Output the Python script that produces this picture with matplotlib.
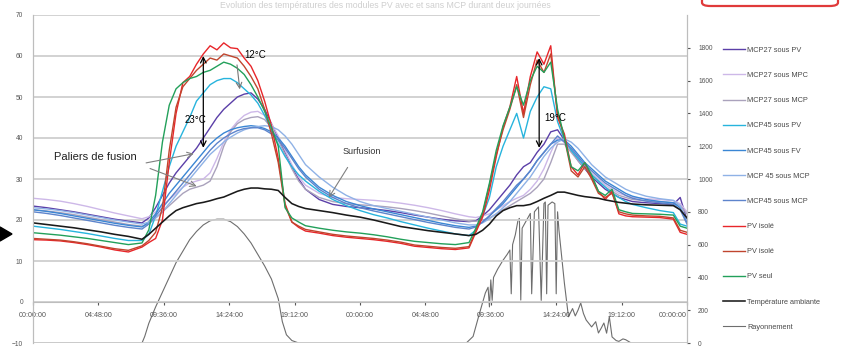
import matplotlib
matplotlib.use("Agg")
import matplotlib.pyplot as plt
from matplotlib.patches import FancyBboxPatch, Polygon

plt.rcParams['font.family'] = ['Liberation Sans', 'DejaVu Sans']

# time axis in hours from 00:00 day 1 (denser sampling during the day)
hours = [0, 1, 2, 3, 4, 5, 6, 7, 8,
         8.5, 9, 9.5, 10, 10.5, 11, 11.5, 12, 12.5, 13, 13.5, 14, 14.5, 15, 15.5, 16, 16.5, 17, 17.5, 18, 18.5, 19, 19.5, 20,
         21, 22, 23, 24, 25, 26, 27, 28, 29, 30, 31, 32,
         32.5, 33, 33.5, 34, 34.5, 35, 35.5, 36, 36.5, 37, 37.5, 38, 38.5, 39, 39.5, 40, 40.5, 41, 41.5, 42, 42.5, 43, 43.5, 44,
         45, 46, 47, 47.5, 48]

mcp27_pv = [23.4, 23.0, 22.5, 22.0, 21.4, 20.8, 20.2, 19.7, 19.3,
            20.5, 23.0, 26.0, 29.0, 31.5, 33.5, 35.5, 37.5, 40.0, 42.5, 45.0, 47.0, 48.5, 50.0, 50.7, 51.0, 49.5, 47.0, 43.5, 40.0, 36.5, 33.0, 30.0, 27.5,
            25.0, 23.8, 23.3, 23.0, 22.7, 22.3, 21.8, 21.2, 20.7, 20.2, 19.8, 19.6,
            19.8, 21.0, 22.5, 24.5, 26.5, 28.5, 31.0, 33.0, 34.0, 36.5, 38.5, 41.5, 42.0, 39.5, 37.0, 34.5, 32.5, 30.5, 29.0, 27.5, 26.5, 25.5, 25.0, 24.5,
            24.2, 24.0, 23.8, 25.5, 20.0]
mcp27_mpc = [25.3, 25.0, 24.6, 24.0, 23.3, 22.5, 21.7, 21.0, 20.3,
             20.8, 22.0, 23.5, 25.0, 26.5, 28.0, 29.0, 29.5, 30.0, 31.5, 35.0, 39.0, 42.0, 44.0, 45.5, 46.3, 46.5, 45.5, 43.5, 40.5, 37.0, 33.5, 30.5, 28.5,
             26.5, 25.5, 25.2, 25.0, 24.8, 24.5, 24.1, 23.6, 23.0, 22.3, 21.5, 20.8,
             20.6, 21.0, 21.5, 22.5, 23.5, 24.5, 25.3, 26.0, 27.5, 29.5, 32.5, 36.5, 40.0, 39.0, 37.0, 35.0, 33.0, 31.5, 30.0, 28.5, 27.5, 26.5, 26.0, 25.5,
             25.2, 25.0, 24.7, 24.0, 22.0]
mcp27_mcp = [22.5, 22.2, 21.8, 21.3, 20.7, 20.1, 19.5, 18.9, 18.5,
             19.0, 20.5, 22.0, 23.5, 25.0, 26.5, 27.5, 28.0, 28.5, 29.5, 33.0, 38.0, 41.5, 43.5, 44.5, 45.0, 45.2, 44.5, 42.5, 39.5, 36.0, 32.5, 29.5, 27.5,
             25.5, 24.5, 24.0, 23.7, 23.5, 23.2, 22.8, 22.3, 21.7, 21.0, 20.3, 19.7,
             19.7, 20.0, 20.5, 21.5, 22.5, 23.5, 24.5, 25.5, 26.5, 28.0, 30.0, 34.0, 38.5, 38.5, 36.5, 34.5, 32.5, 31.0, 29.5, 28.0, 27.0, 26.0, 25.5, 25.0,
             24.7, 24.5, 24.2, 23.5, 21.5]
mcp45_pv = [18.5, 18.1, 17.7, 17.2, 16.7, 16.1, 15.5, 15.0, 15.0,
            16.5, 21.0, 27.0, 33.0, 38.0, 41.5, 45.0, 49.0, 51.0, 53.0, 54.0, 54.5, 54.5, 53.5, 52.0, 50.5, 48.5, 45.5, 42.0, 38.5, 35.5, 33.0, 31.0, 29.5,
            27.0, 25.0, 23.5, 22.3, 21.3, 20.5, 19.6, 18.8, 18.0, 17.3, 16.6, 16.2,
            17.5, 21.0, 25.5, 33.0, 38.0, 42.0, 46.0, 40.0, 46.5, 50.0, 52.5, 52.0, 44.0, 39.5, 37.0, 35.0, 33.0, 31.0, 29.5, 28.0, 26.5, 25.5, 24.5, 23.8,
            23.0, 22.3, 21.8, 19.0, 18.5]
mcp45_fv = [22.5, 22.1, 21.6, 21.0, 20.4, 19.8, 19.2, 18.7, 18.3,
            19.5, 21.5, 24.0, 26.5, 28.5, 30.5, 32.5, 34.5, 36.5, 38.5, 40.0, 41.2, 42.0, 42.5, 42.8, 43.0, 42.8, 42.3, 41.5, 40.0, 38.0, 35.5, 33.0, 31.0,
            28.0, 26.0, 24.5, 23.5, 22.7, 22.0, 21.3, 20.6, 19.9, 19.2, 18.6, 18.2,
            18.5, 19.5, 21.0, 22.5, 24.0, 26.0, 28.0, 30.0, 32.0, 34.5, 36.5, 38.5, 39.5, 39.5, 38.0, 36.0, 34.0, 32.5, 31.0, 29.5, 28.5, 27.5, 26.5, 25.8,
            25.0, 24.5, 24.2, 23.0, 19.5]
mcp45_mcp_a = [23.0, 22.7, 22.3, 21.8, 21.2, 20.6, 20.0, 19.5, 19.0,
               19.5, 20.5, 22.0, 24.0, 26.0, 28.0, 30.0, 32.0, 34.0, 36.0, 37.5, 39.0, 40.2, 41.2, 42.0, 42.5, 42.8, 43.0, 42.8, 42.0, 40.5, 38.5, 36.0, 33.5,
               30.5, 28.0, 26.0, 24.5, 23.5, 22.8, 22.1, 21.4, 20.7, 20.0, 19.3, 18.8,
               18.8, 19.3, 20.3, 21.5, 23.0, 24.5, 26.5, 28.5, 30.5, 33.0, 35.5, 37.5, 39.0, 39.8, 39.0, 37.5, 35.5, 33.5, 32.0, 30.5, 29.5, 28.5, 27.5, 26.8,
               25.8, 25.2, 24.8, 23.5, 20.0]
mcp45_mcp_b = [22.0, 21.6, 21.1, 20.5, 19.9, 19.3, 18.7, 18.2, 17.8,
               19.0, 21.0, 23.0, 25.0, 27.0, 29.0, 31.0, 33.0, 35.0, 37.0, 38.7, 40.0, 41.0, 41.8, 42.3, 42.5, 42.5, 42.0, 41.0, 39.5, 37.5, 35.0, 32.5, 30.5,
               27.5, 25.5, 24.0, 23.0, 22.2, 21.5, 20.8, 20.1, 19.4, 18.8, 18.2, 17.8,
               18.3, 19.5, 21.0, 22.8, 24.5, 26.5, 28.5, 30.0, 32.0, 34.5, 36.5, 38.5, 40.5, 39.0, 37.5, 35.5, 33.5, 32.0, 30.5, 29.0, 28.0, 27.0, 26.0, 25.3,
               24.6, 24.2, 23.8, 22.5, 19.0]
pv_isole_1 = [15.2, 15.1, 14.9, 14.5, 14.0, 13.4, 12.7, 12.2, 13.4,
              14.5, 15.5, 20.0, 34.0, 46.0, 53.5, 55.0, 58.0, 60.5, 62.5, 61.5, 63.2, 62.0, 61.8, 59.5, 57.5, 54.0, 49.0, 43.0, 35.0, 24.0, 19.5, 18.2, 17.3,
              16.8, 16.2, 15.8, 15.5, 15.2, 14.8, 14.3, 13.6, 13.3, 13.0, 12.8, 13.2,
              17.0, 20.7, 27.3, 35.4, 42.7, 47.6, 55.0, 46.0, 55.0, 61.0, 58.0, 62.5, 45.0, 41.0, 33.0, 31.0, 34.0, 30.5, 27.0, 25.0, 27.0, 21.5, 21.0, 20.8,
              20.7, 20.6, 20.2, 17.0, 16.5]
pv_isole_2 = [15.5, 15.3, 15.1, 14.7, 14.2, 13.6, 13.0, 12.6, 13.7,
              15.0, 17.0, 23.0, 37.0, 47.5, 52.5, 54.5, 56.5, 58.0, 59.5, 59.0, 60.5, 60.0, 59.5, 57.5, 55.0, 52.0, 47.0, 41.0, 34.0, 23.5, 19.5, 18.5, 17.7,
              17.1, 16.5, 16.1, 15.8, 15.5, 15.1, 14.6, 13.9, 13.6, 13.3, 13.1, 13.5,
              17.5, 21.5, 28.5, 36.0, 42.0, 47.0, 53.0, 45.0, 53.0, 59.0, 56.0, 60.5, 46.0, 40.0, 32.0, 30.5, 33.0, 30.0, 26.5, 25.5, 26.5, 22.0, 21.5, 21.2,
              21.0, 20.9, 20.5, 17.5, 17.0]
pv_seul = [16.9, 16.6, 16.3, 15.9, 15.5, 15.0, 14.5, 14.0, 14.4,
           17.6, 26.0, 39.0, 48.0, 52.0, 53.5, 54.5, 55.0, 56.0, 56.5, 57.5, 58.5, 58.0, 57.0, 55.5, 53.0, 50.0, 46.5, 42.5, 38.0, 23.0, 20.5, 19.5, 18.6,
           18.0, 17.5, 17.1, 16.8, 16.4, 15.9, 15.3, 14.8, 14.5, 14.2, 14.0, 14.5,
           18.0, 22.0, 29.0, 37.0, 43.0, 47.5, 52.5, 48.0, 54.0, 57.5, 56.0, 58.5, 47.0, 40.0, 33.0, 32.0, 34.0, 31.0, 27.0, 26.0, 27.5, 22.5, 22.0, 21.6,
           21.5, 21.4, 21.2, 18.5, 18.0]
t_ambiante = [19.3, 18.9, 18.5, 18.1, 17.6, 17.1, 16.5, 16.0, 15.3,
              16.5, 18.0, 19.5, 21.0, 22.3, 23.0, 23.5, 24.0, 24.3, 24.7, 25.2, 25.6, 26.3, 27.0, 27.5, 27.8, 27.8, 27.6, 27.5, 27.2, 25.5, 24.0, 23.3, 22.8,
              22.3, 21.8, 21.2, 20.7, 20.0, 19.2, 18.4, 17.9, 17.4, 17.0, 16.6, 16.2,
              16.5, 17.5, 19.0, 21.0, 22.3, 23.0, 23.5, 23.5, 23.8, 24.5, 25.3, 26.0, 26.8, 26.8, 26.4, 26.0, 25.7, 25.5, 25.3, 24.9, 24.6, 24.3, 24.1, 23.9,
              23.7, 23.6, 23.5, 22.5, 20.5]

# solar radiation (W/m2, right axis)
rad_hours = [0, 8.0, 8.2, 8.5, 9, 9.5, 10, 10.5, 11, 11.5, 12, 12.5, 13, 13.5, 14, 14.5, 15, 15.5, 16, 16.5, 17, 17.5, 18, 18.3, 18.6, 19, 19.5,
             31.8, 32.3, 32.7, 33.2, 33.4, 33.5, 33.6, 33.7, 33.8, 34.1, 34.5, 34.8, 35.0, 35.1, 35.2, 35.4, 35.6, 35.7, 35.8, 35.9,
             36.3, 36.5, 36.6, 36.8, 37.1, 37.3, 37.5, 37.6, 37.7, 37.8, 38.1, 38.3, 38.4, 38.5, 38.6, 39.0, 39.3, 39.6, 39.8, 40.0,
             40.2, 40.4, 40.6, 41.0, 41.3, 41.5, 41.7, 41.9, 42.1, 42.3, 42.5, 42.8, 43.0, 43.3, 43.5, 43.9, 48]
rad_wm2 = [0, 0, 40, 120, 220, 310, 400, 490, 560, 630, 680, 720, 745, 755, 755, 740, 710, 665, 610, 540, 470, 390, 270, 130, 50, 15, 0,
           0, 40, 160, 305, 340, 220, 385, 260, 400, 450, 505, 540, 567, 300, 600, 660, 750, 760, 262, 700,
           760, 790, 300, 800, 830, 260, 850, 860, 300, 840, 860, 850, 300, 800, 690, 366, 160, 210, 165, 200,
           244, 180, 140, 98, 130, 61, 90, 122, 60, 160, 37, 15, 10, 25, 20, 0, 0]

series = [
    ("MCP27 sous PV", mcp27_pv, "#5b3fa8"),
    ("MCP27 sous MPC", mcp27_mpc, "#cdb8e8"),
    ("MCP27 sous MCP", mcp27_mcp, "#aaa2bc"),
    ("MCP45 sous PV", mcp45_pv, "#27b4dd"),
    ("MCP45 sous FV", mcp45_fv, "#3a86d4"),
    ("MCP 45 sous MCP", mcp45_mcp_a, "#8fb2e6"),
    ("MCP45 sous MCP", mcp45_mcp_b, "#5d84cc"),
    ("PV isolé", pv_isole_1, "#e8262a"),
    ("PV isolé", pv_isole_2, "#c0452e"),
    ("PV seul", pv_seul, "#22a05a"),
    ("Température ambiante", t_ambiante, "#1a1a1a"),
]

W, H = 842, 349
fig = plt.figure(figsize=(W / 100, H / 100), dpi=100)
ax = fig.add_axes([33 / W, 1 - 343 / H, (687 - 33) / W, (343 - 15) / H])
ax2 = ax.twinx()

# gridlines (top one stops under the title box)
for v in range(-10, 70, 10):
    ax.axhline(v, color="#cfcfcf", lw=1.3, zorder=0)
ax.axhline(70, xmax=0.866, color="#cfcfcf", lw=1.3, zorder=0)

# radiation on the right axis
ax2.plot(rad_hours, rad_wm2, color="#6e6e6e", lw=0.8)
ax2.set_ylim(0, 2000)
ax2.set_yticks(range(0, 2000, 200))

lines = []
for label, vals, col in series:
    lw = 1.15 if label.startswith("Temp") else 1.0
    ln, = ax.plot(hours, vals, color=col, lw=lw, label=label)
    lines.append(ln)
rad_line = plt.Line2D([], [], color="#6e6e6e", lw=0.8, label="Rayonnement")
ax.set_zorder(ax2.get_zorder() + 1)
ax.patch.set_visible(False)

ax.set_xlim(0, 48)
ax.set_ylim(-10, 70)
ax.set_yticks(range(-10, 80, 10))
xt = [0, 4.8, 9.6, 14.4, 19.2, 24, 28.8, 33.6, 38.4, 43.2, 48]
ax.set_xticks(xt)
ax.set_xticklabels(["%02d:%02d:00" % (int(h) % 24, round((h % 1) * 60)) for h in xt])

for a in (ax, ax2):
    for s in a.spines.values():
        s.set_color("#bdbdbd")
    a.spines["top"].set_visible(False)
ax.spines["bottom"].set_position(("data", 0))
ax2.spines["bottom"].set_visible(False)
ax.tick_params(axis="x", labelsize=5.1, colors="#555555", length=2, pad=5)
ax.tick_params(axis="y", labelsize=4.8, colors="#555555", length=0, pad=7)
ax2.tick_params(axis="y", labelsize=4.8, colors="#555555", length=2, pad=6)
# last time label kept left of the right-axis labels
ax.xaxis.get_major_ticks()[-1].label1.set_horizontalalignment("right")

# annotations
arr = dict(arrowstyle="<->", color="black", lw=0.9, shrinkA=0, shrinkB=0)
ax.annotate("", xy=(12.5, 60), xytext=(12.5, 37.6), arrowprops=arr)
ax.text(11.9, 44.5, "23°C", fontsize=7, ha="center", va="center")
ax.annotate("", xy=(15.2, 51.2), xytext=(14.95, 58.5),
            arrowprops=dict(arrowstyle="->", color="#777777", lw=0.8))
ax.text(16.3, 60.3, "12°C", fontsize=7, ha="center", va="center")
ax.annotate("", xy=(37.15, 59.5), xytext=(37.15, 37.6), arrowprops=arr)
ax.text(38.3, 44.9, "19°C", fontsize=7, ha="center", va="center")

ax.text(4.6, 35.4, "Paliers de fusion", fontsize=8, ha="center", va="center", color="#222222")
pal = dict(arrowstyle="->", color="#808080", lw=0.8)
ax.annotate("", xy=(12.0, 36.3), xytext=(8.1, 33.8), arrowprops=pal)
ax.annotate("", xy=(12.2, 28.0), xytext=(8.4, 32.8), arrowprops=pal)
ax.text(24.1, 36.6, "Surfusion", fontsize=6.5, ha="center", va="center", color="#333333")
ax.annotate("", xy=(21.6, 24.9), xytext=(23.2, 33.4), arrowprops=pal)

fig.legend(handles=lines + [rad_line], loc="upper left", bbox_to_anchor=(716 / W, 1 - 40 / H),
           frameon=False, fontsize=5.3, labelspacing=2.45, handlelength=3.0, handletextpad=0.3,
           labelcolor="#4a4a4a")

# faint title at the top edge, red frame of the slide, pointer on the left
fig.text(385 / W, 1 - 0.5 / H, "Evolution des températures des modules PV avec et sans MCP durant deux journées",
         fontsize=6.3, color="#cfcfcf", ha="center", va="top")
fig.add_artist(FancyBboxPatch((702 / W, 1 - 6 / H), 136 / W, 0.1, boxstyle="round,pad=0,rounding_size=0.01",
                              transform=fig.transFigure, fill=False, ec="#e03a3a", lw=1.6))
fig.add_artist(Polygon([(0, 1 - 227 / H), (12 / W, 1 - 234 / H), (0, 1 - 241 / H)],
                       closed=True, transform=fig.transFigure, color="black"))

fig.savefig("out.png", dpi=100)
